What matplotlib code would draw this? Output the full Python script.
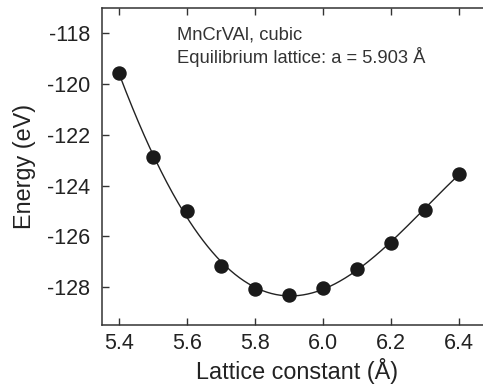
import numpy as np
import matplotlib
matplotlib.use("Agg")
import matplotlib.pyplot as plt

plt.rcParams['font.family'] = ['Liberation Sans', 'DejaVu Sans']

lattice = [5.4, 5.5, 5.6, 5.7, 5.8, 5.9, 6.0, 6.1, 6.2, 6.3, 6.4]
energy = [-119.58, -122.87, -125.01, -127.17, -128.08, -128.33, -128.03, -127.29, -126.25, -124.95, -123.54]
xticks = [5.4, 5.6, 5.8, 6.0, 6.2, 6.4]
yticks = [-118, -120, -122, -124, -126, -128]
label_line1 = "MnCrVAl, cubic"
label_line2 = "Equilibrium lattice: a = 5.903 Å"

fig = plt.figure(figsize=(4.83, 3.85), dpi=100)
ax = fig.add_axes([102/483, 60/385, 391/483, 317/385])

coef = np.polyfit(lattice, energy, 4)
xf = np.linspace(lattice[0], lattice[-1], 300)
ax.plot(xf, np.polyval(coef, xf), color='#222222', lw=1.0)
ax.plot(lattice, energy, 'o', color='#1a1a1a', ms=9.4, mec='#1a1a1a')

ax.set_xlim(5.35, 6.5)
ax.set_ylim(-129.5, -117)
ax.set_xticks(xticks)
ax.set_xticklabels([f"{v:.1f}" for v in xticks])
ax.set_yticks(yticks)
ax.set_yticklabels([str(v) for v in yticks])
ax.tick_params(direction='in', length=5, width=1.0, labelsize=15.5, colors='#333333',
               labelcolor='#222222', top=True, right=False)
ax.tick_params(axis='x', pad=6)
ax.tick_params(axis='y', pad=8.5)
for s in ['left', 'bottom', 'top']:
    ax.spines[s].set_color('#333333')
    ax.spines[s].set_linewidth(1.1)
ax.spines['right'].set_visible(False)

ax.set_xlabel("Lattice constant (Å)", fontsize=16.8, color='#222222', labelpad=3)
ax.set_ylabel("Energy (eV)", fontsize=16.8, color='#222222', labelpad=8)

ax.text(0.191, 0.902, label_line1, transform=ax.transAxes, fontsize=13.2, color='#333333')
ax.text(0.191, 0.826, label_line2, transform=ax.transAxes, fontsize=13.2, color='#333333')

fig.savefig("out.png", dpi=100)
